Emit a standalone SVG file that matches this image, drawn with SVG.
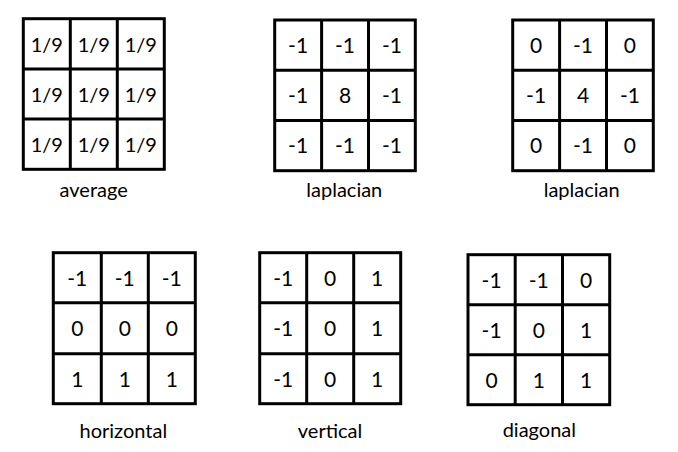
<svg xmlns="http://www.w3.org/2000/svg" width="678" height="452" viewBox="0 0 678 452">
<style>
.frame{fill:#fff;stroke:#000;stroke-width:3}
.grid{fill:none;stroke:#000;stroke-width:3}
text{font-family:Lato,"Open Sans","Liberation Sans",sans-serif;fill:#000;text-anchor:middle}
.v{font-size:21px}
.f{font-size:20px}
.lbl{font-size:20px}
</style>
<rect width="678" height="452" fill="#fff"/>
<g id="average">
<rect class="frame" x="23.3" y="18.7" width="141" height="150.6"/>
<path class="grid" d="M70.3 18.7V169.3M117.3 18.7V169.3M23.3 68.9H164.3M23.3 119.1H164.3"/>
<text class="f" x="46.8" y="51.5">1/9</text><text class="f" x="93.8" y="51.5">1/9</text><text class="f" x="140.8" y="51.5">1/9</text>
<text class="f" x="46.8" y="101.7">1/9</text><text class="f" x="93.8" y="101.7">1/9</text><text class="f" x="140.8" y="101.7">1/9</text>
<text class="f" x="46.8" y="151.9">1/9</text><text class="f" x="93.8" y="151.9">1/9</text><text class="f" x="140.8" y="151.9">1/9</text>
<text class="lbl" x="93.7" y="196.5">average</text>
</g>
<g id="laplacian8">
<rect class="frame" x="274.7" y="20" width="140.6" height="150.7"/>
<path class="grid" d="M321.6 20V170.7M368.5 20V170.7M274.7 70.2H415.3M274.7 120.4H415.3"/>
<text class="v" x="298.1" y="53">-1</text><text class="v" x="345" y="53">-1</text><text class="v" x="391.9" y="53">-1</text>
<text class="v" x="298.1" y="103.2">-1</text><text class="v" x="345" y="103.2">8</text><text class="v" x="391.9" y="103.2">-1</text>
<text class="v" x="298.1" y="153.4">-1</text><text class="v" x="345" y="153.4">-1</text><text class="v" x="391.9" y="153.4">-1</text>
<text class="lbl" x="344.3" y="196.5">laplacian</text>
</g>
<g id="laplacian4">
<rect class="frame" x="512.7" y="20" width="140.6" height="150.7"/>
<path class="grid" d="M559.6 20V170.7M606.5 20V170.7M512.7 70.2H653.3M512.7 120.4H653.3"/>
<text class="v" x="536.1" y="53">0</text><text class="v" x="583" y="53">-1</text><text class="v" x="629.9" y="53">0</text>
<text class="v" x="536.1" y="103.2">-1</text><text class="v" x="583" y="103.2">4</text><text class="v" x="629.9" y="103.2">-1</text>
<text class="v" x="536.1" y="153.4">0</text><text class="v" x="583" y="153.4">-1</text><text class="v" x="629.9" y="153.4">0</text>
<text class="lbl" x="581.7" y="196.5">laplacian</text>
</g>
<g id="horizontal">
<rect class="frame" x="53.3" y="252.7" width="142" height="151"/>
<path class="grid" d="M101.3 252.7V403.7M148.3 252.7V403.7M53.3 302.7H195.3M53.3 353.7H195.3"/>
<text class="v" x="77.3" y="285.7">-1</text><text class="v" x="124.8" y="285.7">-1</text><text class="v" x="171.8" y="285.7">-1</text>
<text class="v" x="77.3" y="336.2">0</text><text class="v" x="124.8" y="336.2">0</text><text class="v" x="171.8" y="336.2">0</text>
<text class="v" x="77.3" y="386.7">1</text><text class="v" x="124.8" y="386.7">1</text><text class="v" x="171.8" y="386.7">1</text>
<text class="lbl" x="123.3" y="438">horizontal</text>
</g>
<g id="vertical">
<rect class="frame" x="259.7" y="252.7" width="141" height="151"/>
<path class="grid" d="M306.7 252.7V403.7M353.7 252.7V403.7M259.7 302.7H400.7M259.7 353.7H400.7"/>
<text class="v" x="283.2" y="285.7">-1</text><text class="v" x="330.2" y="285.7">0</text><text class="v" x="377.2" y="285.7">1</text>
<text class="v" x="283.2" y="336.2">-1</text><text class="v" x="330.2" y="336.2">0</text><text class="v" x="377.2" y="336.2">1</text>
<text class="v" x="283.2" y="386.7">-1</text><text class="v" x="330.2" y="386.7">0</text><text class="v" x="377.2" y="386.7">1</text>
<text class="lbl" x="330" y="438">vertical</text>
</g>
<g id="diagonal">
<rect class="frame" x="468" y="254.7" width="141.7" height="150"/>
<path class="grid" d="M515.2 254.7V404.7M562.5 254.7V404.7M468 304.7H609.7M468 354.7H609.7"/>
<text class="v" x="491.6" y="287.5">-1</text><text class="v" x="538.8" y="287.5">-1</text><text class="v" x="586.1" y="287.5">0</text>
<text class="v" x="491.6" y="337.5">-1</text><text class="v" x="538.8" y="337.5">0</text><text class="v" x="586.1" y="337.5">1</text>
<text class="v" x="491.6" y="387.5">0</text><text class="v" x="538.8" y="387.5">1</text><text class="v" x="586.1" y="387.5">1</text>
<text class="lbl" x="539.3" y="437">diagonal</text>
</g>
<g id="connectors"/>
</svg>
